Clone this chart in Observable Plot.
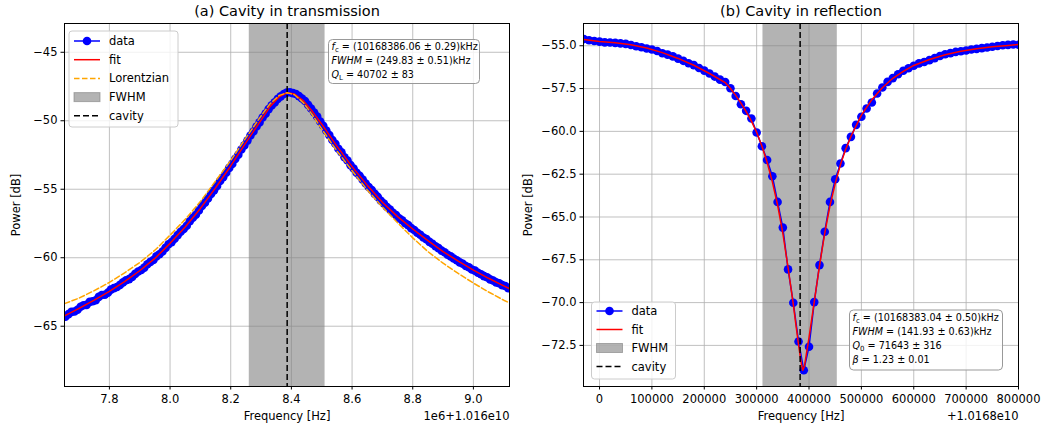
<!DOCTYPE html>
<html><head><meta charset="utf-8">
<script src="https://cdn.jsdelivr.net/npm/d3@7"></script>
<script src="https://cdn.jsdelivr.net/npm/@observablehq/plot@0.6"></script>
<style>
html,body{margin:0;padding:0;background:#fff;}
#fig{position:relative;width:1056px;height:428px;overflow:hidden;font-family:"DejaVu Sans",sans-serif;background:#fff;}
#fig svg{position:absolute;top:0;}
</style></head><body><div id="fig"></div>
<script>
// ---------- (a) transmission: x in units of 1e6 Hz above 1.016e10 Hz ----------
const transFreq = [7.655,7.665,7.675,7.685,7.695,7.705,7.715,7.725,7.735,7.745,7.755,7.765,7.775,7.785,7.795,7.805,7.815,7.825,7.835,7.845,7.855,7.865,7.875,7.885,7.895,7.905,7.915,7.925,7.935,7.945,7.955,7.965,7.975,7.985,7.995,8.005,8.015,8.025,8.035,8.045,8.055,8.065,8.075,8.085,8.095,8.105,8.115,8.125,8.135,8.145,8.155,8.165,8.175,8.185,8.195,8.205,8.215,8.225,8.235,8.245,8.255,8.265,8.275,8.285,8.295,8.305,8.315,8.325,8.335,8.345,8.355,8.365,8.375,8.385,8.395,8.405,8.415,8.425,8.435,8.445,8.455,8.465,8.475,8.485,8.495,8.505,8.515,8.525,8.535,8.545,8.555,8.565,8.575,8.585,8.595,8.605,8.615,8.625,8.635,8.645,8.655,8.665,8.675,8.685,8.695,8.705,8.715,8.725,8.735,8.745,8.755,8.765,8.775,8.785,8.795,8.805,8.815,8.825,8.835,8.845,8.855,8.865,8.875,8.885,8.895,8.905,8.915,8.925,8.935,8.945,8.955,8.965,8.975,8.985,8.995,9.005,9.015,9.025,9.035,9.045,9.055,9.065,9.075,9.085,9.095,9.105,9.115];
const transPower = [-64.30,-64.12,-63.95,-63.92,-63.80,-63.58,-63.47,-63.44,-63.22,-63.18,-63.10,-62.86,-62.72,-62.70,-62.55,-62.33,-62.22,-62.14,-61.98,-61.80,-61.64,-61.56,-61.40,-61.18,-61.00,-60.90,-60.72,-60.48,-60.30,-60.16,-59.90,-59.74,-59.55,-59.28,-59.02,-58.86,-58.62,-58.35,-58.10,-57.90,-57.66,-57.34,-57.08,-56.86,-56.55,-56.22,-55.98,-55.68,-55.34,-55.08,-54.76,-54.40,-54.12,-53.80,-53.44,-53.15,-52.78,-52.48,-52.10,-51.80,-51.45,-51.08,-50.78,-50.42,-50.12,-49.76,-49.48,-49.15,-48.88,-48.66,-48.40,-48.22,-48.05,-47.94,-47.92,-47.98,-48.05,-48.20,-48.38,-48.56,-48.84,-49.10,-49.40,-49.70,-50.06,-50.36,-50.72,-51.05,-51.40,-51.68,-52.04,-52.30,-52.66,-52.90,-53.24,-53.48,-53.80,-54.02,-54.30,-54.58,-54.84,-55.06,-55.34,-55.56,-55.84,-56.04,-56.30,-56.48,-56.72,-56.88,-57.12,-57.26,-57.48,-57.62,-57.84,-57.98,-58.18,-58.32,-58.52,-58.64,-58.84,-58.98,-59.16,-59.30,-59.48,-59.60,-59.78,-59.90,-60.06,-60.18,-60.34,-60.44,-60.60,-60.70,-60.86,-60.94,-61.10,-61.20,-61.34,-61.42,-61.58,-61.66,-61.80,-61.86,-62.00,-62.06,-62.22];
const transFitFreq = [7.652,7.70,7.75,7.80,7.85,7.90,7.95,8.00,8.05,8.10,8.15,8.20,8.25,8.30,8.33,8.36,8.386,8.41,8.44,8.47,8.50,8.55,8.60,8.65,8.70,8.75,8.80,8.85,8.90,8.95,9.00,9.05,9.10,9.119];
const transFit = [-64.25,-63.70,-63.10,-62.45,-61.75,-60.95,-60.05,-58.95,-57.75,-56.40,-54.90,-53.30,-51.60,-49.95,-48.95,-48.25,-47.95,-48.05,-48.55,-49.35,-50.25,-51.85,-53.35,-54.70,-55.95,-57.00,-57.90,-58.75,-59.55,-60.25,-60.90,-61.50,-62.05,-62.25];
const lorentz = [-63.35,-62.95,-62.40,-61.80,-61.10,-60.35,-59.45,-58.35,-57.20,-55.90,-54.40,-52.90,-51.25,-49.65,-48.75,-48.15,-47.95,-48.10,-48.70,-49.60,-50.60,-52.20,-53.65,-55.05,-56.30,-57.45,-58.55,-59.55,-60.40,-61.15,-61.85,-62.50,-63.10,-63.30];
const transFc = 8.38606, transFwhm = 0.24983;
const transXTicks = [7.8, 8.0, 8.2, 8.4, 8.6, 8.8, 9.0];
const transYTicks = [-65, -60, -55, -50, -45];

// ---------- (b) reflection: x in Hz above 1.0168e10 Hz ----------
const reflFreq = [-30000,-20000,-10000,0,10000,20000,30000,40000,50000,60000,70000,80000,90000,100000,110000,120000,130000,140000,150000,160000,170000,180000,190000,200000,210000,220000,230000,240000,250000,260000,270000,280000,290000,300000,310000,320000,330000,340000,350000,360000,370000,380000,390000,400000,410000,420000,430000,440000,450000,460000,470000,480000,490000,500000,510000,520000,530000,540000,550000,560000,570000,580000,590000,600000,610000,620000,630000,640000,650000,660000,670000,680000,690000,700000,710000,720000,730000,740000,750000,760000,770000,780000,790000,800000];
const reflPower = [-54.61,-54.68,-54.72,-54.76,-54.80,-54.81,-54.83,-54.86,-54.89,-54.96,-55.03,-55.09,-55.16,-55.22,-55.31,-55.44,-55.52,-55.62,-55.75,-55.88,-56.02,-56.13,-56.30,-56.45,-56.62,-56.80,-56.98,-57.12,-57.48,-57.93,-58.42,-58.80,-59.25,-60.07,-60.87,-61.67,-62.62,-64.12,-65.62,-68.06,-70.01,-72.27,-73.95,-72.58,-69.97,-67.81,-65.86,-64.12,-62.80,-61.88,-60.98,-60.32,-59.62,-59.15,-58.66,-58.31,-57.79,-57.44,-57.11,-56.89,-56.66,-56.46,-56.31,-56.17,-56.03,-55.95,-55.84,-55.72,-55.60,-55.50,-55.43,-55.36,-55.32,-55.28,-55.22,-55.18,-55.14,-55.10,-55.06,-55.01,-54.97,-54.95,-54.93,-54.94];
const reflFitFreq = [-30000,0,30000,60000,90000,120000,150000,180000,210000,240000,250000,260000,270000,280000,290000,300000,310000,320000,330000,340000,350000,360000,370000,375000,380000,385000,388000,391000,395000,400000,405000,410000,420000,430000,440000,450000,460000,470000,480000,500000,520000,540000,560000,580000,600000,630000,660000,690000,720000,750000,780000,800000];
const reflFit = [-54.64,-54.75,-54.82,-54.94,-55.13,-55.40,-55.74,-56.14,-56.62,-57.15,-57.50,-57.90,-58.35,-58.85,-59.40,-60.05,-60.85,-61.80,-62.95,-64.30,-65.95,-67.95,-70.10,-71.30,-72.45,-73.50,-73.95,-73.75,-73.00,-72.05,-71.00,-69.95,-67.85,-65.95,-64.35,-63.05,-61.95,-61.05,-60.30,-59.05,-58.15,-57.45,-56.90,-56.50,-56.15,-55.80,-55.52,-55.32,-55.17,-55.06,-54.98,-54.93];
const reflFc = 383040, reflFwhm = 141930;
const reflXTicks = [0,100000,200000,300000,400000,500000,600000,700000,800000];
const reflYTicks = [-72.5,-70,-67.5,-65,-62.5,-60,-57.5,-55];

const zip = (xs, ys) => xs.map((x, i) => ({x, y: ys[i]}));
const minus = s => s.replace("-", "\u2212");
const GRID = "#b0b0b0";
const DASH = "6,3";

function panel(o) {
  const marks = [
    Plot.gridX({ticks: o.xTicks, stroke: GRID, strokeOpacity: 1, strokeWidth: 0.8}),
    Plot.gridY({ticks: o.yTicks, stroke: GRID, strokeOpacity: 1, strokeWidth: 0.8}),
    Plot.rect([{a: o.fc - o.fwhm / 2, b: o.fc + o.fwhm / 2}], {x1: "a", x2: "b", fill: "#808080", fillOpacity: 0.6}),
    Plot.line(o.data, {x: "x", y: "y", stroke: "blue", strokeWidth: 1.5, clip: true}),
    Plot.dot(o.data, {x: "x", y: "y", r: 4.3, fill: "blue", clip: true}),
    Plot.line(o.fit, {x: "x", y: "y", stroke: "red", strokeWidth: 1.5, clip: true}),
  ];
  if (o.lor) marks.push(Plot.line(o.lor, {x: "x", y: "y", stroke: "orange", strokeWidth: 1.5, strokeDasharray: "5.5,2.5", clip: true}));
  marks.push(
    Plot.ruleX([o.fc], {stroke: "black", strokeWidth: 1.5, strokeDasharray: DASH}),
    Plot.frame({stroke: "black", strokeWidth: 1}),
    Plot.axisX({ticks: o.xTicks, tickFormat: o.xFmt, tickSize: 3.5, tickPadding: 4.5, label: null}),
    Plot.axisY({ticks: o.yTicks, tickFormat: o.yFmt, tickSize: 3.5, tickPadding: 3.5, label: null}),
    Plot.text([o.title], {text: d => d, frameAnchor: "top", lineAnchor: "middle", textAnchor: "middle", dy: -12, fontSize: 14.5}),
    Plot.text(["Frequency [Hz]"], {text: d => d, frameAnchor: "bottom", lineAnchor: "middle", textAnchor: "middle", dy: 30}),
    Plot.text([o.offset], {text: d => d, frameAnchor: "bottom-right", lineAnchor: "middle", textAnchor: "end", dy: 30}),
    Plot.text(["Power [dB]"], {text: d => d, frameAnchor: "left", lineAnchor: "middle", textAnchor: "middle", dx: o.ylabDx, rotate: -90})
  );
  return Plot.plot({
    width: o.width, height: 428,
    marginLeft: o.ml, marginRight: o.mr, marginTop: 23, marginBottom: 42,
    x: {domain: o.xDomain},
    y: {domain: o.yDomain},
    style: {fontFamily: "DejaVu Sans", fontSize: "11.5px", color: "#000", background: "transparent", overflow: "visible"},
    marks
  });
}

function legend(svg, box, items) {
  const g = d3.select(svg).append("g").attr("font-family", "DejaVu Sans").attr("font-size", 11.5).attr("text-anchor", "start");
  g.append("rect").attr("x", box.x).attr("y", box.y).attr("width", box.w).attr("height", box.h)
    .attr("rx", 3).attr("fill", "white").attr("fill-opacity", 0.8).attr("stroke", "#cccccc");
  items.forEach((it, i) => {
    const y = box.y0 + i * box.dy, x0 = box.x + 5, x1 = box.x + 31;
    if (it.kind === "patch") {
      g.append("rect").attr("x", x0).attr("y", y - 4.5).attr("width", x1 - x0).attr("height", 9)
        .attr("fill", "#808080").attr("fill-opacity", 0.6).attr("stroke", "#808080").attr("stroke-opacity", 0.6);
    } else {
      g.append("line").attr("x1", x0).attr("x2", x1).attr("y1", y).attr("y2", y)
        .attr("stroke", it.color).attr("stroke-width", 1.5).attr("stroke-dasharray", it.dash || null);
      if (it.kind === "marker") g.append("circle").attr("cx", (x0 + x1) / 2).attr("cy", y).attr("r", 4.3).attr("fill", it.color);
    }
    g.append("text").attr("x", box.x + 40).attr("y", y).attr("dy", "0.35em").attr("fill", "#000").text(it.label);
  });
}

function annot(svg, box, lines) {
  const g = d3.select(svg).append("g").attr("font-family", "DejaVu Sans").attr("font-size", 9.6).attr("text-anchor", "start");
  g.append("rect").attr("x", box.x).attr("y", box.y).attr("width", box.w).attr("height", box.h)
    .attr("rx", 4).attr("fill", "white").attr("fill-opacity", 0.8).attr("stroke", "#999999");
  lines.forEach((parts, i) => {
    const t = g.append("text").attr("x", box.x + 3).attr("y", box.y0 + i * box.dy).attr("fill", "#000");
    parts.forEach(p => {
      const s = t.append("tspan").text(p.t);
      if (p.i) s.attr("font-style", "italic");
      if (p.sub) s.attr("font-size", 7).attr("dy", 2);
      if (p.up) s.attr("dy", -2);
    });
  });
}

const fig = document.getElementById("fig");

const svgA = panel({
  width: 520, ml: 64, mr: 11,
  xDomain: [7.652, 9.119], yDomain: [-69.4, -42.9],
  xTicks: transXTicks, yTicks: transYTicks,
  xFmt: d => d.toFixed(1), yFmt: d => minus(String(d)),
  data: zip(transFreq, transPower), fit: zip(transFitFreq, transFit), lor: zip(transFitFreq, lorentz),
  fc: transFc, fwhm: transFwhm,
  title: "(a) Cavity in transmission", offset: "1e6+1.016e10", ylabDx: -48
});
svgA.style.left = "0px";
fig.appendChild(svgA);
legend(svgA, {x: 69, y: 31, w: 109, h: 96, y0: 41, dy: 18.7}, [
  {kind: "marker", color: "blue", label: "data"},
  {kind: "line", color: "red", label: "fit"},
  {kind: "line", color: "orange", dash: "5.5,2.5", label: "Lorentzian"},
  {kind: "patch", label: "FWHM"},
  {kind: "line", color: "black", dash: DASH, label: "cavity"}
]);
annot(svgA, {x: 328.5, y: 39.5, w: 151, h: 44, y0: 49.5, dy: 14}, [
  [{t: "f", i: true}, {t: "c", sub: true}, {t: " = (10168386.06 \u00b1 0.29)kHz", up: true}],
  [{t: "FWHM", i: true}, {t: " = (249.83 \u00b1 0.51)kHz"}],
  [{t: "Q", i: true}, {t: "L", sub: true}, {t: " = 40702 \u00b1 83", up: true}]
]);

const svgB = panel({
  width: 536, ml: 63, mr: 38,
  xDomain: [-30600, 800000], yDomain: [-74.9, -53.7],
  xTicks: reflXTicks, yTicks: reflYTicks,
  xFmt: d => String(d), yFmt: d => minus(d.toFixed(1)),
  data: zip(reflFreq, reflPower), fit: zip(reflFitFreq, reflFit), lor: null,
  fc: reflFc, fwhm: reflFwhm,
  title: "(b) Cavity in reflection", offset: "+1.0168e10", ylabDx: -55
});
svgB.style.left = "520px";
fig.appendChild(svgB);
legend(svgB, {x: 71.5, y: 302, w: 84, h: 77, y0: 311, dy: 18.5}, [
  {kind: "marker", color: "blue", label: "data"},
  {kind: "line", color: "red", label: "fit"},
  {kind: "patch", label: "FWHM"},
  {kind: "line", color: "black", dash: DASH, label: "cavity"}
]);
annot(svgB, {x: 329.5, y: 310, w: 153, h: 60, y0: 321, dy: 14}, [
  [{t: "f", i: true}, {t: "c", sub: true}, {t: " = (10168383.04 \u00b1 0.50)kHz", up: true}],
  [{t: "FWHM", i: true}, {t: " = (141.93 \u00b1 0.63)kHz"}],
  [{t: "Q", i: true}, {t: "0", sub: true}, {t: " = 71643 \u00b1 316", up: true}],
  [{t: "\u03b2", i: true}, {t: " = 1.23 \u00b1 0.01"}]
]);
</script></body></html>
